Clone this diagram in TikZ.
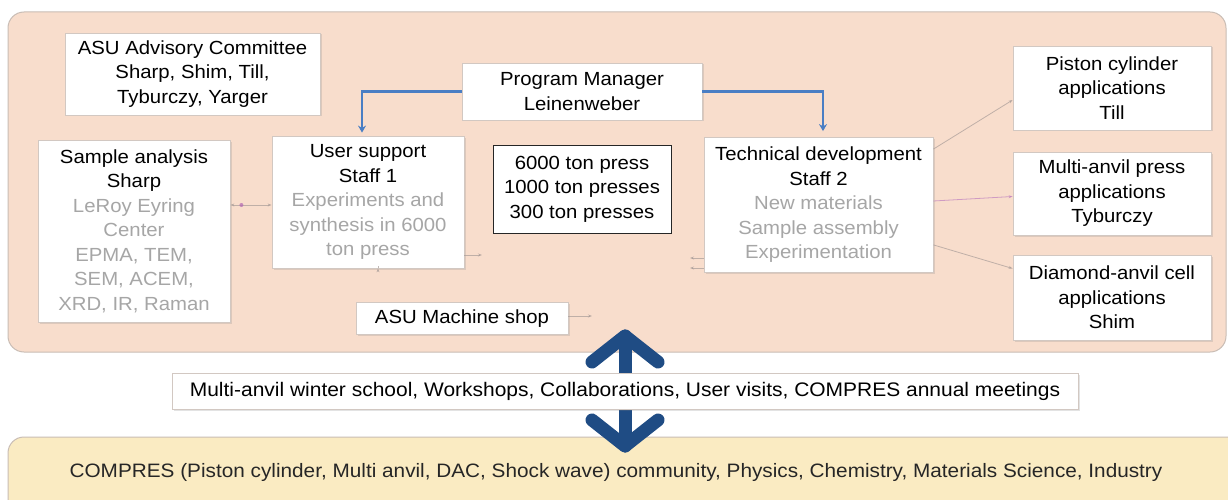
\documentclass[tikz,border=0pt]{standalone}
\usepackage{fontspec}
\setmainfont{Liberation Sans}[FakeStretch=1.07]
\usetikzlibrary{calc,arrows.meta,shadows}
\definecolor{peach}{HTML}{F8DDCC}
\definecolor{sand}{HTML}{FAEBC2}
\definecolor{bgline}{HTML}{C9BDB5}
\definecolor{boxline}{HTML}{D2C8C2}
\definecolor{pmblue}{HTML}{4A7EC4}
\definecolor{bigblue}{HTML}{1F4C84}
\definecolor{softgray}{HTML}{A6A6A6}
\definecolor{faintc}{HTML}{A89C98}
\tikzset{
  box/.style={draw=boxline, line width=0.8pt, fill=white, inner sep=0pt, align=center,
    font=\fontsize{19}{24.5}\selectfont,
    drop shadow={shadow xshift=1.5pt, shadow yshift=-1.5pt, opacity=.22, fill=black!50}},
  pressbox/.style={draw=black!85, line width=1pt, fill=white, inner sep=0pt, align=center,
    font=\fontsize{19}{24.5}\selectfont},
  blueconn/.style={draw=pmblue, line width=2.2pt, -{Stealth[length=7pt,width=8pt]}},
  faint/.style={draw=faintc, line width=0.8pt, opacity=.7},
  bigarrow/.style={draw=bigblue, line width=13pt, line cap=round, line join=round}
}
\begin{document}
\begin{tikzpicture}[x=1pt,y=-1pt]
\clip (0,0) rectangle (1228,500);
\fill[white] (0,0) rectangle (1228,500);
% background bands
\filldraw[fill=peach, draw=bgline, line width=1pt, rounded corners=16pt] (8,12) rectangle (1226,352);
\filldraw[fill=sand, draw=bgline, line width=1pt, rounded corners=16pt] (8,437) rectangle (1250,540);
% big double arrow (behind the activity box)
\coordinate (upTip) at (625,336);
\coordinate (dnTip) at (625,446);
\draw[bigarrow] (625,380) -- (upTip);
\draw[bigarrow] (592,362) -- (upTip) -- (658,362);
\draw[bigarrow] (625,400) -- (dnTip);
\draw[bigarrow] (592,420) -- (dnTip) -- (658,420);
% nodes
\node[box, minimum width=255, minimum height=82] (adv) at (192.5,74)
  {ASU Advisory Committee\\Sharp, Shim, Till,\\Tyburczy, Yarger};
\node[box, minimum width=240, minimum height=57] (pm) at (582,91.5)
  {Program Manager\\Leinenweber};
\node[box, minimum width=192, minimum height=182] (samp) at (134,231)
  {Sample analysis\\Sharp\\\textcolor{softgray}{LeRoy Eyring}\\\textcolor{softgray}{Center}\\\textcolor{softgray}{EPMA, TEM,}\\\textcolor{softgray}{SEM, ACEM,}\\\textcolor{softgray}{XRD, IR, Raman}};
\node[box, minimum width=192, minimum height=132] (user) at (368,202)
  {User support\\Staff 1\\\textcolor{softgray}{Experiments and}\\\textcolor{softgray}{synthesis in 6000}\\\textcolor{softgray}{ton press}};
\node[pressbox, minimum width=178, minimum height=88] (press) at (582,189)
  {6000 ton press\\1000 ton presses\\300 ton presses};
\node[box, minimum width=229, minimum height=135] (tech) at (818.5,205)
  {Technical development\\Staff 2\\\textcolor{softgray}{New materials}\\\textcolor{softgray}{Sample assembly}\\\textcolor{softgray}{Experimentation}};
\node[box, minimum width=212, minimum height=32] (mach) at (462,318.5)
  {ASU Machine shop};
\node[box, minimum width=198, minimum height=84] (pist) at (1112,88)
  {Piston cylinder\\applications\\Till};
\node[box, minimum width=198, minimum height=83] (multi) at (1112,193.5)
  {Multi-anvil press\\applications\\Tyburczy};
\node[box, minimum width=198, minimum height=85] (diam) at (1112,297.5)
  {Diamond-anvil cell\\applications\\Shim};
\node[box, minimum width=906, minimum height=36, font=\fontsize{19.6}{22}\selectfont] (act) at (625,391.5)
  {Multi-anvil winter school, Workshops, Collaborations, User visits, COMPRES annual meetings};
\node[inner sep=0pt, font=\fontsize{19.4}{22}\selectfont, text=black!85] (comm) at (616,472)
  {COMPRES (Piston cylinder, Multi anvil, DAC, Shock wave) community, Physics, Chemistry, Materials Science, Industry};
% blue connectors
\draw[blueconn, shorten >=3pt] (pm.west) -| ($(user.north)+(-6,0)$);
\draw[blueconn, shorten >=6pt] (pm.east) -| ($(tech.north)+(4.5,0)$);
% faint connectors
\draw[faint, {Stealth[length=4pt]}-{Stealth[length=4pt]}] (samp.east |- user.west) ++(0,3) -- ($(user.west)+(0,3)$);
\fill[violet!60, opacity=.7] ($(samp.east)+(11,-26)$) circle (2pt);
\draw[faint, -{Stealth[length=4pt]}] ($(user.south)+(10,0)$) -- ($(user.south)+(10,0)$ |- mach.north);
\coordinate (machEnd) at (592,316);
\draw[faint, -{Stealth[length=4pt]}] (mach.east |- machEnd) -- (machEnd);
\coordinate (userStub) at (482,255);
\draw[faint, -{Stealth[length=4pt]}] (user.east |- userStub) -- (userStub);
\coordinate (techStubA) at (690,258);
\coordinate (techStubB) at (690,268);
\draw[faint, -{Stealth[length=4pt]}] (tech.west |- techStubA) -- (techStubA);
\draw[faint, -{Stealth[length=4pt]}] (tech.west |- techStubB) -- (techStubB);
\draw[faint, -{Stealth[length=4pt]}] ($(tech.north east)+(0,12)$) -- ($(pist.west)+(0,12)$);
\draw[faint, draw=violet!50, -{Stealth[length=4pt]}] ($(tech.east)+(0,-4)$) -- ($(multi.west)+(0,3)$);
\draw[faint, -{Stealth[length=4pt]}] ($(tech.south east)+(0,-28)$) -- ($(diam.west)+(0,-29)$);
\end{tikzpicture}
\end{document}
